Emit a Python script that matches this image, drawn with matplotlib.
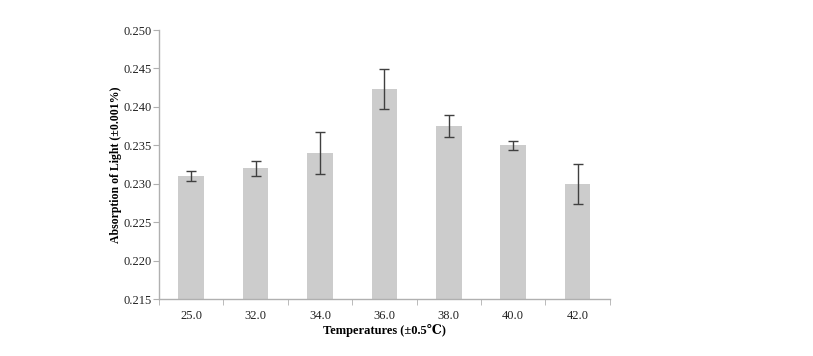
import matplotlib
matplotlib.use("Agg")
import matplotlib.pyplot as plt
import numpy as np

plt.rcParams['font.family'] = ['Liberation Serif', 'DejaVu Serif', 'DejaVu Sans']

temps = ['25.0', '32.0', '34.0', '36.0', '38.0', '40.0', '42.0']
absorb = [0.2310, 0.2320, 0.2340, 0.2423, 0.2375, 0.2350, 0.2300]
err = [0.0006, 0.0010, 0.0027, 0.0026, 0.0014, 0.0006, 0.0026]

fig = plt.figure(figsize=(8.13, 3.56), dpi=100)
ax = fig.add_axes([0.1956, 0.16, 0.5544, 0.7557])

x = np.arange(len(temps))
ax.bar(x, absorb, width=0.4, color='#cccccc', zorder=2)
ax.errorbar(x, absorb, yerr=err, fmt='none', ecolor='#404040',
            elinewidth=1, capsize=3.5, capthick=1, zorder=3)

ax.set_xlim(-0.5, len(temps) - 0.5)
ax.set_ylim(0.215, 0.250)
ax.set_yticks(np.arange(0.215, 0.2501, 0.005))
ax.set_yticklabels(['%.3f' % v for v in np.arange(0.215, 0.2501, 0.005)])
ax.set_xticks(x)
ax.set_xticklabels(temps)
ax.set_xticks(np.arange(-0.5, len(temps)), minor=True)
ax.tick_params(axis='x', which='major', length=0, pad=8, labelsize=9, colors='#222222')
ax.tick_params(axis='x', which='minor', length=4, color='#b0b0b0', direction='out')
ax.tick_params(axis='y', length=4, color='#b0b0b0', direction='out', labelsize=9,
               labelcolor='#222222', pad=1.5)

for s in ['top', 'right']:
    ax.spines[s].set_visible(False)
for s in ['left', 'bottom']:
    ax.spines[s].set_color('#b0b0b0')
    ax.spines[s].set_linewidth(1)

ax.set_xlabel('Temperatures (±0.5℃)', fontsize=9, fontweight='bold', labelpad=1)
ax.set_ylabel('Absorption of Light (±0.001%)', fontsize=8.5, fontweight='bold', labelpad=0.5)

fig.savefig('out.png', dpi=100)
